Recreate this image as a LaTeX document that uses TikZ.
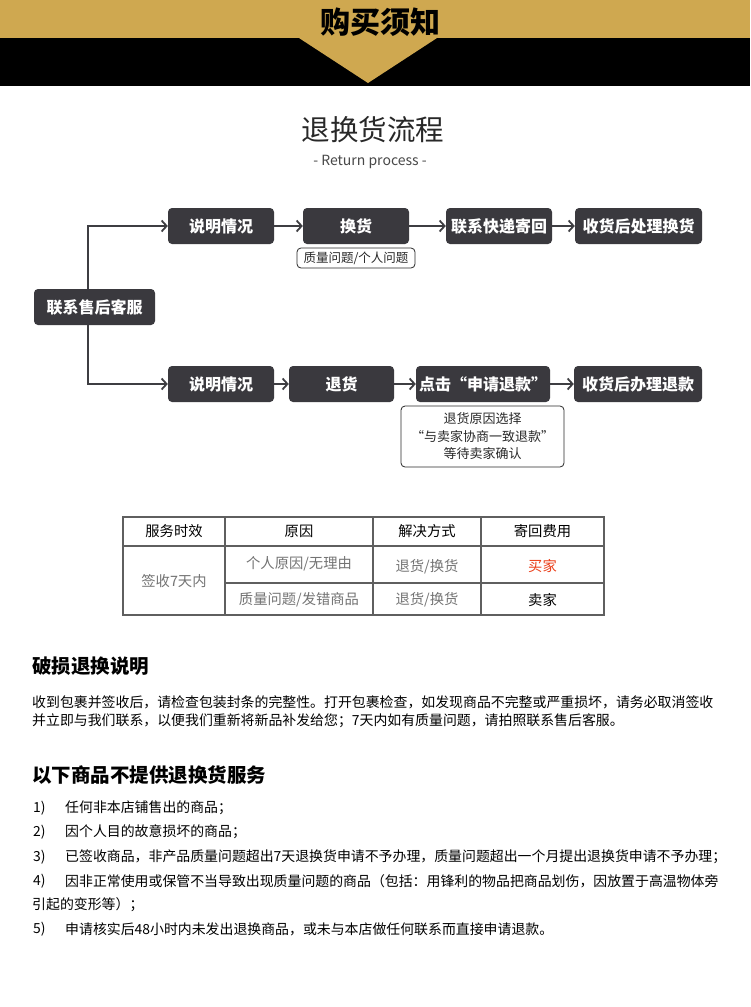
\documentclass[tikz,border=0pt]{standalone}
\usepackage{fontspec}
\setmainfont{Noto Sans CJK SC}
\usetikzlibrary{arrows.meta}
\definecolor{gold}{RGB}{207,168,80}
\definecolor{boxc}{RGB}{58,57,62}
\definecolor{linec}{RGB}{62,62,66}
\definecolor{txtgray}{RGB}{115,115,115}
\definecolor{redc}{RGB}{235,62,25}
\definecolor{gridc}{RGB}{95,95,95}
\definecolor{darktxt}{RGB}{40,40,40}
\begin{document}
\begin{tikzpicture}[x=1pt,y=-1pt,
  flow/.style={fill=boxc, rounded corners=4pt, text=white,
    font=\fontsize{16}{18}\selectfont\bfseries, minimum height=36pt,
    inner sep=0pt, anchor=center},
  arr/.style={draw=linec, line width=1.8pt,
    -{Straight Barb[length=5pt,width=11pt,line width=1.8pt]}},
  tag/.style={draw=darktxt, rounded corners=4pt, line width=0.8pt, text=darktxt,
    font=\fontsize{12.5}{14}\selectfont, inner sep=0pt},
  cell/.style={font=\fontsize{14.3}{16}\selectfont, inner sep=0pt, anchor=center},
  para/.style={font=\fontsize{13.9}{16}\selectfont, inner sep=0pt, anchor=west, text=black},
  head/.style={font=\fontsize{19.5}{22}\selectfont\bfseries, inner sep=0pt, anchor=west, text=black},
  grid/.style={draw=gridc, line width=1.1pt}
]
\useasboundingbox (0,0) rectangle (750,1007);
\fill[white] (0,0) rectangle (750,1007);

% header band
\fill[gold] (0,0) rectangle (750,38);
\fill[black] (0,38) rectangle (750,86);
\fill[gold] (299,38) -- (437,38) -- (368,83) -- cycle;
\node[font=\fontsize{30}{32}\selectfont\bfseries, text=black, inner sep=0pt] (banner) at (380,22) {购买须知};

% title
\node[font=\fontsize{28.5}{32}\selectfont, text=darktxt, inner sep=0pt] (title) at (373,130) {退换货流程};
\node[font=\fontsize{14}{16}\selectfont, text=darktxt!85, inner sep=0pt] (subtitle) at (370,162) {- Return process -};

% flowchart
\node[flow, minimum width=121pt] (kf) at (94.5,307) {联系售后客服};
\node[flow, minimum width=106pt] (s1) at (221,226) {说明情况};
\node[flow, minimum width=106pt] (hh) at (356,226) {换货};
\node[flow, minimum width=106pt] (kd) at (499,226) {联系快递寄回};
\node[flow, minimum width=127pt] (sh) at (638.5,226) {收货后处理换货};
\node[flow, minimum width=106pt] (s2) at (221,384) {说明情况};
\node[flow, minimum width=105pt] (th) at (341.5,384) {退货};
\node[flow, minimum width=134pt] (dj) at (483,384) {点击“申请退款”};
\node[flow, minimum width=128pt] (tk) at (638,384) {收货后办理退款};

\node[tag, minimum width=118pt, minimum height=20pt] (lb) at (356,258) {质量问题/个人问题};
\node[tag, minimum width=163pt, minimum height=61pt, align=center,
      font=\fontsize{13}{17.5}\selectfont] (nb) at (482.5,436.5)
      {退货原因选择\\“与卖家协商一致退款”\\等待卖家确认};

\coordinate (v) at (88,300);
\draw[arr] (v |- kf.north) |- (s1.west);
\draw[arr] (v |- kf.south) |- (s2.west);
\draw[arr] (s1) -- (hh);
\draw[arr] (hh) -- (kd);
\draw[arr] (kd) -- (sh);
\draw[arr] (s2) -- (th);
\draw[arr] (th) -- (dj);
\draw[arr] (dj) -- (tk);

% table
\draw[grid] (123,517) rectangle (604,615);
\draw[grid] (123,546) -- (604,546);
\draw[grid] (225,583) -- (604,583);
\draw[grid] (225,517) -- (225,615);
\draw[grid] (373,517) -- (373,615);
\draw[grid] (481,517) -- (481,615);

\node[cell, text=black] (h1) at (174,531.5) {服务时效};
\node[cell, text=black] (h2) at (299,531.5) {原因};
\node[cell, text=black] (h3) at (427,531.5) {解决方式};
\node[cell, text=black] (h4) at (542.5,531.5) {寄回费用};
\node[cell, text=txtgray] (c1) at (174,581) {签收7天内};
\node[cell, text=txtgray] (r1a) at (299,564) {个人原因/无理由};
\node[cell, text=txtgray] (r1b) at (427,567) {退货/换货};
\node[cell, text=redc] (r1c) at (542.5,566) {买家};
\node[cell, text=txtgray] (r2a) at (299,600) {质量问题/发错商品};
\node[cell, text=txtgray] (r2b) at (427,600) {退货/换货};
\node[cell, text=black] (r2c) at (542.5,600) {卖家};

% damage section
\node[head] (d0) at (32,666) {破损退换说明};
\node[para] (d1) at (32,702) {收到包裹并签收后，请检查包装封条的完整性。打开包裹检查，如发现商品不完整或严重损坏，请务必取消签收};
\node[para] (d2) at (32,721) {并立即与我们联系，以便我们重新将新品补发给您；7天内如有质量问题，请拍照联系售后客服。};

% exclusions
\node[head] (e0) at (32,775) {以下商品不提供退换货服务};
\node[para] (n1) at (33,808) {1)};
\node[para] (t1) at (65,808) {任何非本店铺售出的商品；};
\node[para] (n2) at (33,832) {2)};
\node[para] (t2) at (65,832) {因个人目的故意损坏的商品；};
\node[para] (n3) at (33,857) {3)};
\node[para] (t3) at (65,857) {已签收商品，非产品质量问题超出7天退换货申请不予办理，质量问题超出一个月提出退换货申请不予办理；};
\node[para] (n4) at (33,881) {4)};
\node[para] (t4) at (65,881) {因非正常使用或保管不当导致出现质量问题的商品（包括：用锋利的物品把商品划伤，因放置于高温物体旁};
\node[para] (t4b) at (32,905) {引起的变形等）；};
\node[para] (n5) at (33,929) {5)};
\node[para] (t5) at (65,929) {申请核实后48小时内未发出退换商品，或未与本店做任何联系而直接申请退款。};
\end{tikzpicture}
\end{document}
